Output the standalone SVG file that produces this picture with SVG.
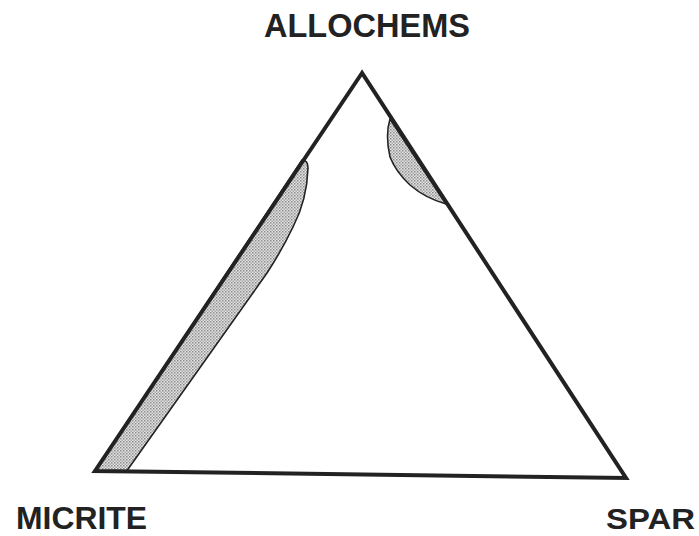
<svg xmlns="http://www.w3.org/2000/svg" width="699" height="536" viewBox="0 0 699 536">
<defs>
<pattern id="stip" width="3" height="3" patternUnits="userSpaceOnUse">
<rect width="3" height="3" fill="#e4e4e4"/>
<rect x="0" y="0" width="1.5" height="1.5" fill="#8a8a8a"/>
<rect x="1.5" y="1.5" width="1.5" height="1.5" fill="#a8a8a8"/>
</pattern>
<style>
.lbl{font-family:"Liberation Sans",Arial,sans-serif;font-weight:bold;fill:#222;}
.zone{fill:url(#stip);stroke:#222;stroke-width:1.6;stroke-linejoin:round;}
.edge{fill:none;stroke:#222;stroke-width:4;stroke-linejoin:miter;}
</style>
</defs>
<rect width="699" height="536" fill="#fff"/>
<g id="zones">
<path id="micrite-zone" class="zone" d="M95,471 L302,160 Q308,160 308,168 Q307,200 293,227 Q282,250 267,273 L126,472 Z"/>
<path id="spar-zone" class="zone" d="M390,119 Q385,135 390,157 Q396,172 410,185 Q425,198 446,204 L390,119 Z"/>
</g>
<g id="triangle">
<path class="edge" d="M362,73 L95,471 L626,478 Z"/>
</g>
<g id="labels">
<text class="lbl" x="264" y="37" font-size="33" textLength="206" lengthAdjust="spacingAndGlyphs">ALLOCHEMS</text>
<text class="lbl" x="16" y="529" font-size="31" textLength="131" lengthAdjust="spacingAndGlyphs">MICRITE</text>
<text class="lbl" x="606" y="529" font-size="30" textLength="89" lengthAdjust="spacingAndGlyphs">SPAR</text>
</g>
</svg>
